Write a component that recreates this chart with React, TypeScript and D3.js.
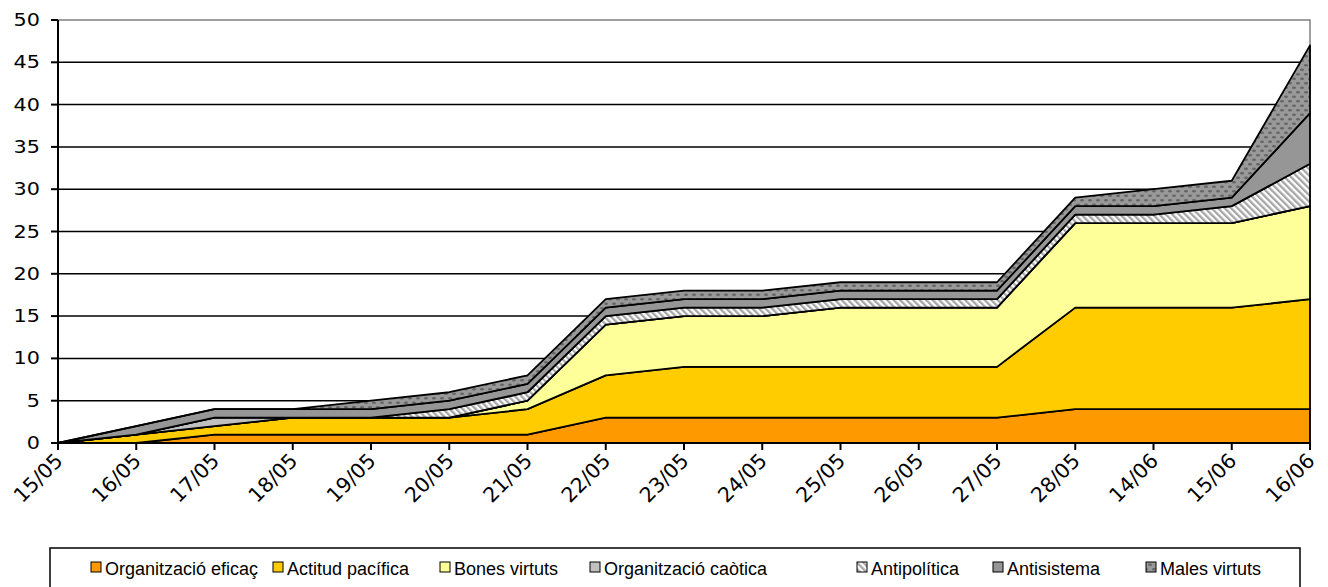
import React, { useEffect, useRef } from 'react';
import * as d3 from 'd3';

// dates on the x axis
const dates = ["15/05", "16/05", "17/05", "18/05", "19/05", "20/05", "21/05", "22/05", "23/05",
  "24/05", "25/05", "26/05", "27/05", "28/05", "14/06", "15/06", "16/06"];

// one array per series (values per date, stacked in this order)
const organitzacioEficac = [0, 0, 1, 1, 1, 1, 1, 3, 3, 3, 3, 3, 3, 4, 4, 4, 4];
const actitudPacifica = [0, 1, 1, 2, 2, 2, 3, 5, 6, 6, 6, 6, 6, 12, 12, 12, 13];
const bonesVirtuts = [0, 0, 0, 0, 0, 0, 1, 6, 6, 6, 7, 7, 7, 10, 10, 10, 11];
const organitzacioCaotica = [0, 0, 1, 0, 0, 0, 0, 0, 0, 0, 0, 0, 0, 0, 0, 0, 0];
const antipolitica = [0, 0, 0, 0, 0, 1, 1, 1, 1, 1, 1, 1, 1, 1, 1, 2, 5];
const antisistema = [0, 1, 1, 1, 1, 1, 1, 1, 1, 1, 1, 1, 1, 1, 1, 1, 6];
const malesVirtuts = [0, 0, 0, 0, 1, 1, 1, 1, 1, 1, 1, 1, 1, 1, 2, 2, 8];

const seriesNames = ["Organització eficaç", "Actitud pacífica", "Bones virtuts",
  "Organització caòtica", "Antipolítica", "Antisistema", "Males virtuts"];
const seriesValues = [organitzacioEficac, actitudPacifica, bonesVirtuts, organitzacioCaotica,
  antipolitica, antisistema, malesVirtuts];
const yTicks = [0, 5, 10, 15, 20, 25, 30, 35, 40, 45, 50];

const fills = ["#FF9900", "#FFCC00", "#FFFF99", "#C0C0C0", "url(#hatch)", "#969696", "url(#dots)"];
// left edge of each legend entry (swatch), as laid out in the original
const legendX = [91, 273, 440, 590, 857, 993, 1146];

const W = 1328;
const H = 587;

function Chart() {
  const ref = useRef<SVGSVGElement>(null);

  useEffect(() => {
    const svg = d3.select(ref.current);
    svg.selectAll("*").remove();

    const left = 58, right = 1310, top = 20, bottom = 443;

    // patterns
    const defs = svg.append("defs");
    const hatch = defs.append("pattern")
      .attr("id", "hatch")
      .attr("patternUnits", "userSpaceOnUse")
      .attr("width", 4.6).attr("height", 4.6)
      .attr("patternTransform", "rotate(-45)");
    hatch.append("rect").attr("width", 4.6).attr("height", 4.6).attr("fill", "#ffffff");
    hatch.append("rect").attr("width", 2.3).attr("height", 4.6).attr("fill", "#a6a6a6");

    const dots = defs.append("pattern")
      .attr("id", "dots")
      .attr("patternUnits", "userSpaceOnUse")
      .attr("width", 8).attr("height", 9);
    dots.append("rect").attr("width", 8).attr("height", 9).attr("fill", "#999999");
    dots.append("ellipse").attr("cx", 2).attr("cy", 2.2).attr("rx", 2).attr("ry", 1.2).attr("fill", "#666666");
    dots.append("ellipse").attr("cx", 6).attr("cy", 6.7).attr("rx", 2).attr("ry", 1.2).attr("fill", "#666666");

    const x = d3.scalePoint<string>().domain(dates).range([left, right]);
    const y = d3.scaleLinear().domain([0, 50]).range([bottom, top]);

    // gridlines
    svg.append("g")
      .selectAll("line")
      .data(yTicks.filter(d => d > 0 && d < 50))
      .enter()
      .append("line")
      .attr("x1", left).attr("x2", right)
      .attr("y1", d => y(d)).attr("y2", d => y(d))
      .attr("stroke", "#000").attr("stroke-width", 1.5);

    // plot border (top & right)
    svg.append("path")
      .attr("d", `M${left},${y(50)}H${right}V${bottom}`)
      .attr("fill", "none").attr("stroke", "#808080").attr("stroke-width", 1.5);

    // stacked areas
    const rows = dates.map((d, i) => {
      const r: any = { date: d };
      seriesNames.forEach((n, k) => { r[n] = seriesValues[k][i]; });
      return r;
    });
    const stack = d3.stack().keys(seriesNames);
    const layers = stack(rows);

    const area = d3.area<any>()
      .x(d => x(d.data.date) as number)
      .y0(d => y(d[0]))
      .y1(d => y(d[1]));

    svg.append("g")
      .selectAll("path")
      .data(layers)
      .enter()
      .append("path")
      .attr("d", area)
      .attr("fill", (d, i) => fills[i])
      .attr("stroke", "#000")
      .attr("stroke-width", 1.8)
      .attr("stroke-linejoin", "round");

    // y axis
    const yAxis = svg.append("g");
    yAxis.append("line")
      .attr("x1", left).attr("x2", left).attr("y1", top).attr("y2", bottom)
      .attr("stroke", "#000").attr("stroke-width", 2);
    yAxis.selectAll("line.tick")
      .data(yTicks)
      .enter()
      .append("line")
      .attr("class", "tick")
      .attr("x1", left - 7).attr("x2", left)
      .attr("y1", d => y(d)).attr("y2", d => y(d))
      .attr("stroke", "#000").attr("stroke-width", 2);
    yAxis.selectAll("text")
      .data(yTicks)
      .enter()
      .append("text")
      .attr("transform", d => `translate(40,${y(d) + 6}) scale(1.22,1)`)
      .attr("text-anchor", "end")
      .style("font-family", "'DejaVu Sans', Verdana, sans-serif")
      .style("font-size", "17px")
      .text(d => d);

    // x axis
    const xAxis = svg.append("g");
    xAxis.append("line")
      .attr("x1", left).attr("x2", right).attr("y1", bottom).attr("y2", bottom)
      .attr("stroke", "#000").attr("stroke-width", 2);
    xAxis.selectAll("line.tick")
      .data(dates)
      .enter()
      .append("line")
      .attr("class", "tick")
      .attr("x1", d => x(d) as number).attr("x2", d => x(d) as number)
      .attr("y1", bottom).attr("y2", bottom + 7)
      .attr("stroke", "#000").attr("stroke-width", 2);
    xAxis.selectAll("text")
      .data(dates)
      .enter()
      .append("text")
      .attr("transform", d => `translate(${(x(d) as number) + 6},${bottom + 19}) rotate(-45)`)
      .attr("text-anchor", "end")
      .style("font-family", "'DejaVu Sans', Verdana, sans-serif")
      .style("font-size", "20.5px")
      .text(d => d);

    // legend
    const lg = svg.append("g");
    lg.append("rect")
      .attr("x", 50).attr("y", 548).attr("width", 1250).attr("height", 40)
      .attr("fill", "#fff").attr("stroke", "#000").attr("stroke-width", 1.5);
    seriesNames.forEach((n, i) => {
      const cx = legendX[i];
      lg.append("rect")
        .attr("x", cx).attr("y", 562).attr("width", 10).attr("height", 10)
        .attr("fill", fills[i]).attr("stroke", "#000").attr("stroke-width", 1);
      lg.append("text")
        .attr("x", cx + 14).attr("y", 575)
        .style("font-family", "'Liberation Sans', Arial, sans-serif")
        .style("font-size", "18px")
        .text(n);
    });
  }, []);

  return <svg ref={ref} width={W} height={H} style={{ display: "block" }} />;
}

export default function App() {
  return (
    <div style={{ position: "absolute", left: 0, top: 0 }}>
      <Chart />
    </div>
  );
}
